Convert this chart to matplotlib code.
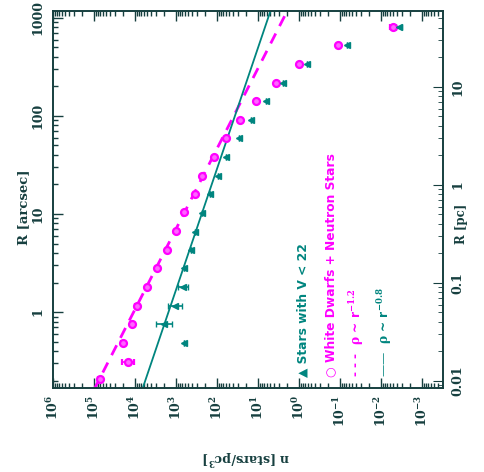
import numpy as np
from matplotlib import pyplot as plt
from matplotlib import ticker

# log10 of density n [stars/pc^3] and radius R [arcsec]
wd_logn = [-2.29, -0.95, 0.0, 0.56, 1.05, 1.44, 1.78, 2.07, 2.37, 2.54,
           2.81, 3.0, 3.22, 3.46, 3.71, 3.95, 4.07, 4.29, 4.17, 4.85]
wd_logR = [2.91, 2.72, 2.53, 2.34, 2.15, 1.96, 1.77, 1.58, 1.39, 1.20,
           1.02, 0.83, 0.63, 0.45, 0.26, 0.06, -0.12, -0.32, -0.51, -0.68]
wd_err = [0.06, 0, 0, 0, 0, 0, 0, 0, 0, 0,
          0, 0, 0, 0, 0, 0.05, 0.05, 0.06, 0.15, 0.06]

st_logn = [-2.44, -1.17, -0.2, 0.39, 0.8, 1.17, 1.46, 1.78, 1.98, 2.17,
           2.37, 2.54, 2.63, 2.8, 2.83, 3.02, 3.29, 2.8]
st_logR = [2.91, 2.72, 2.53, 2.34, 2.15, 1.96, 1.77, 1.58, 1.39, 1.20,
           1.01, 0.82, 0.63, 0.45, 0.26, 0.06, -0.12, -0.32]
st_err = [0.08, 0, 0, 0, 0, 0, 0, 0, 0, 0,
          0, 0, 0, 0, 0.13, 0.16, 0.2, 0]

# power-law fits: log n = norm - alpha * log R
dash_alpha, dash_norm = 1.22, 4.03
solid_alpha, solid_norm = 0.81, 3.18

arcsec_to_pc = 0.0504
xticks = [6, 5, 4, 3, 2, 1, 0, -1, -2, -3]

teal = '#00857f'
mag = '#ff00ff'
dark = '#163f3f'

plt.rcParams['font.family'] = ['DejaVu Serif', 'DejaVu Sans']
plt.rcParams['font.weight'] = 'bold'
plt.rcParams['mathtext.fontset'] = 'dejavuserif'
plt.rcParams['mathtext.default'] = 'bf'

fig = plt.figure(figsize=(4.85, 4.72), dpi=100)
ax = fig.add_axes([0.109, 0.178, 0.804, 0.799])

n_wd = 10.0**np.array(wd_logn)
R_wd = 10.0**np.array(wd_logR)
e_wd = np.array(wd_err)
ax.errorbar(n_wd, R_wd, xerr=[n_wd - n_wd/10**e_wd, n_wd*10**e_wd - n_wd],
            fmt='o', color=mag, ms=5, mfc='#ff66ff', mew=1.6,
            elinewidth=1.2, capsize=2, zorder=3)

n_st = 10.0**np.array(st_logn)
R_st = 10.0**np.array(st_logR)
e_st = np.array(st_err)
ax.errorbar(n_st, R_st, xerr=[n_st - n_st/10**e_st, n_st*10**e_st - n_st],
            fmt='<', color=teal, ms=5, elinewidth=1.2, capsize=2, zorder=3)

r = np.logspace(-1.5, 3.5, 200)
ax.plot(10**(dash_norm - dash_alpha*np.log10(r)), r, color=mag, lw=2,
        ls=(0, (4, 3)))
ax.plot(10**(solid_norm - solid_alpha*np.log10(r)), r, color=teal, lw=1.3)

ax.set_xscale('log')
ax.set_yscale('log')
ax.set_xlim(1e6, 10**-3.51)
ax.set_ylim(0.168, 1180)

ax.xaxis.set_major_locator(ticker.FixedLocator([10.0**k for k in xticks]))
ax.xaxis.set_minor_locator(ticker.LogLocator(subs=np.arange(2, 10), numticks=100))
ax.xaxis.set_major_formatter(ticker.FuncFormatter(
    lambda v, p: r'$10^{%d}$' % round(np.log10(v))))
ax.yaxis.set_major_formatter(ticker.FuncFormatter(lambda v, p: '%g' % v))
ax.yaxis.set_minor_formatter(ticker.NullFormatter())

ax.tick_params(which='both', direction='in', top=True, right=False,
               colors=dark, labelcolor=dark, width=1)
ax.tick_params(which='major', length=7)
ax.tick_params(which='minor', length=3.5)
ax.tick_params(axis='x', labelrotation=90, labelsize=9, pad=5)
ax.tick_params(axis='y', labelrotation=90, labelsize=9, pad=6)
for lab in ax.get_yticklabels():
    lab.set_va('center')

# right axis in parsec
ax2 = ax.twinx()
ax2.set_yscale('log')
ax2.set_ylim(0.168*arcsec_to_pc, 1180*arcsec_to_pc)
ax2.yaxis.set_major_formatter(ticker.FuncFormatter(lambda v, p: '%g' % v))
ax2.yaxis.set_minor_formatter(ticker.NullFormatter())
ax2.tick_params(which='both', direction='in', colors=dark, labelcolor=dark)
ax2.tick_params(which='major', length=7)
ax2.tick_params(which='minor', length=3.5)
ax2.tick_params(axis='y', labelrotation=90, labelsize=9, pad=6)
for lab in ax2.get_yticklabels():
    lab.set_va('center')

for a in (ax, ax2):
    for s in a.spines.values():
        s.set_color(dark)
        s.set_linewidth(1.2)

ax.text(-0.074, 0.48, 'R [arcsec]', transform=ax.transAxes, rotation=90,
        ha='center', va='center', fontsize=9.5, color=dark)
ax.text(1.049, 0.435, 'R [pc]', transform=ax.transAxes, rotation=90,
        ha='center', va='center', fontsize=8.5, color=dark)
ax.text(0.497, -0.183, 'n [stars/pc$^3$]', transform=ax.transAxes,
        rotation=180, ha='center', va='center', fontsize=9, color=dark)

# rotated legend drawn as text
leg = [(0.641, '\u25b2 Stars with V < 22', teal),
       (0.713, '\u25cb White Dwarfs + Neutron Stars', mag),
       (0.779, '- - -  $\\rho$ ~ r$^{-1.2}$', mag),
       (0.851, '\u2014\u2014  $\\rho$ ~ r$^{-0.8}$', teal)]
for xp, txt, c in leg:
    ax.text(xp, 0.03, txt, transform=ax.transAxes, rotation=90,
            ha='center', va='bottom', fontsize=8.8, color=c,
            family=['DejaVu Sans'], weight='bold')

fig.savefig('out.png', dpi=100)
